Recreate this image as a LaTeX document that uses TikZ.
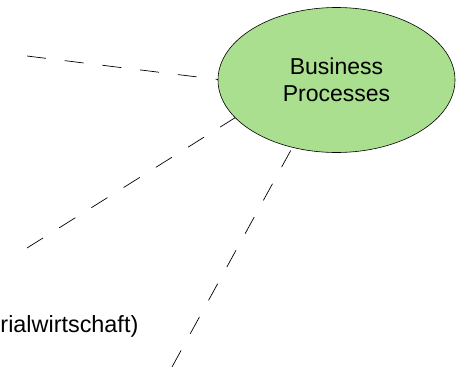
\documentclass[tikz,border=0pt]{standalone}
\usepackage{fontspec}
\setmainfont{Liberation Sans}
\usepackage{tikz}
\usetikzlibrary{shapes.geometric}
\usetikzlibrary{positioning}
\definecolor{processgreen}{RGB}{169,223,142}
\begin{document}
\begin{tikzpicture}
			[
				x = 1pt, y = -1pt,
				myellipse/.style = {draw, ellipse, fill = processgreen, line width = 0.6pt, inner sep = 0pt, minimum width = 237pt, minimum height = 145pt, align = center, font = \fontsize{23}{27.5}\selectfont},
				mydashed/.style = {line width = 0.7pt, dash pattern = on 19pt off 19pt},
				mylabel/.style = {inner sep = 0pt, font = \fontsize{23.4}{28}\selectfont}
			]
			%
			\useasboundingbox (0,0) rectangle (456,367);
			%
			\coordinate (leftend) at (27,56);
			\coordinate (lowleftend) at (27,248);
			\coordinate (bottomend) at (172,367);
			%
			\draw [mydashed] (leftend) -- (218,79.5);
			\draw [mydashed] (lowleftend) -- (235.6,117.4);
			\draw [mydashed] (bottomend) -- (291,150);
			%
			\node (process) [myellipse] at (336.5,80) {Business\\Processes};
			%
			\node (material) [mylabel, anchor = base west] at (0.3,332.7) {rialwirtschaft)};
			%
		\end{tikzpicture}
\end{document}
